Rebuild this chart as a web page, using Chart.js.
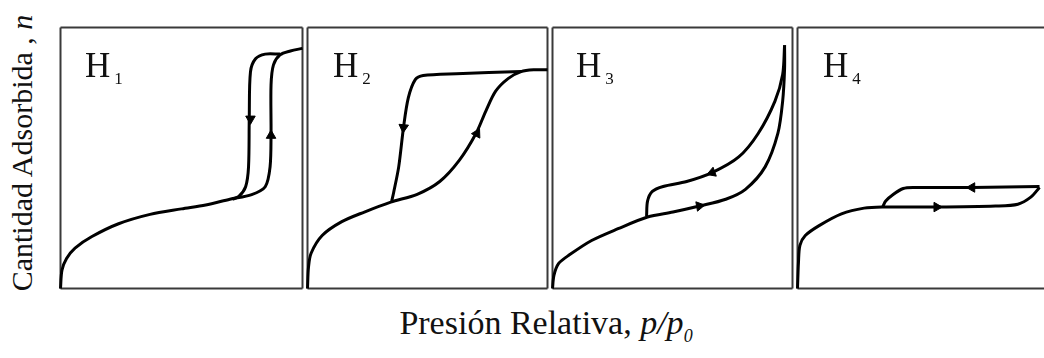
<!DOCTYPE html>
<html>
<head>
<meta charset="utf-8">
<script src="https://cdn.jsdelivr.net/npm/chart.js@4"></script>
<style>
    body { margin: 0; background: #fff; overflow: hidden; width: 1044px; height: 358px; position: relative; }
    canvas { position: absolute; }
    .txt { position: absolute; font-family: "Liberation Serif", "Times New Roman", "DejaVu Serif", serif; color: #111; white-space: nowrap; line-height: 1; }
    .lbl { font-size: 35px; top: 48px; }
    .lbl span { font-size: 17px; margin-left: 4px; position: relative; top: 7px; }
    #xtitle { font-size: 34px; left: 546px; top: 306px; transform: translateX(-50%); }
    #ytitle { font-size: 30px; left: 22px; top: 153px; transform: translate(-50%, -50%) rotate(-90deg); }
    sub { font-size: 18px; }
</style>
</head>
<body>
<div class="txt" id="ytitle">Cantidad Adsorbida , <i>n</i></div>
<div class="txt" id="xtitle">Presión Relativa, <i>p/p<sub>0</sub></i></div>

<script>
// Data (x = p/p0, y = cantidad adsorbida, both relative 0..1)
const panelLabels = ['H', 'H', 'H', 'H'];
const panelSubs = ['1', '2', '3', '4'];

const h1Adsorcion = [[0, 0], [0.006, 0.07], [0.025, 0.115], [0.06, 0.155], [0.13, 0.199], [0.24, 0.248],
    [0.37, 0.284], [0.5, 0.305], [0.6, 0.32], [0.70, 0.342], [0.79, 0.36], [0.846, 0.39], [0.866, 0.466],
    [0.87, 0.594], [0.87, 0.78], [0.88, 0.857], [0.907, 0.895], [0.95, 0.91], [1.0, 0.92]];
const h1Desorcion = [[0.907, 0.898], [0.846, 0.898], [0.806, 0.88], [0.785, 0.83], [0.78, 0.654],
    [0.777, 0.466], [0.765, 0.39], [0.737, 0.353], [0.71, 0.342]];
const h1Flechas = [[0.785, 0.65, 180], [0.87, 0.586, 0]];

const h2Adsorcion = [[0, 0], [0.004, 0.08], [0.015, 0.135], [0.061, 0.203], [0.143, 0.256], [0.237, 0.293],
    [0.347, 0.331], [0.457, 0.361], [0.551, 0.41], [0.633, 0.492], [0.702, 0.594], [0.743, 0.68],
    [0.784, 0.756], [0.837, 0.805], [0.89, 0.831], [0.947, 0.838], [1.0, 0.838]];
const h2Desorcion = [[0.89, 0.831], [0.62, 0.823], [0.482, 0.816], [0.449, 0.80], [0.42, 0.73],
    [0.40, 0.617], [0.38, 0.466], [0.359, 0.368], [0.351, 0.335]];
const h2Flechas = [[0.40, 0.617, 185], [0.706, 0.594, 28]];

const h3Adsorcion = [[0, 0], [0.006, 0.05], [0.025, 0.095], [0.069, 0.128], [0.163, 0.184], [0.273, 0.229],
    [0.396, 0.274], [0.502, 0.293], [0.612, 0.316], [0.722, 0.342], [0.804, 0.38], [0.886, 0.466],
    [0.939, 0.594], [0.959, 0.718], [0.967, 0.842], [0.967, 0.932]];
const h3Desorcion = [[0.967, 0.932], [0.959, 0.82], [0.927, 0.718], [0.857, 0.594], [0.776, 0.504],
    [0.665, 0.444], [0.559, 0.41], [0.461, 0.391], [0.416, 0.372], [0.396, 0.335], [0.392, 0.277]];
const h3Flechas = [[0.612, 0.316, 80], [0.665, 0.444, 250]];

const h4Adsorcion = [[0, 0], [0.004, 0.1], [0.01, 0.165], [0.032, 0.203], [0.089, 0.241], [0.181, 0.286],
    [0.274, 0.308], [0.355, 0.312], [0.573, 0.312], [0.815, 0.316], [0.907, 0.323], [0.96, 0.35],
    [0.996, 0.387]];
const h4Desorcion = [[0.996, 0.391], [0.718, 0.387], [0.476, 0.387], [0.435, 0.383], [0.395, 0.361],
    [0.363, 0.335], [0.351, 0.314]];
const h4Flechas = [[0.573, 0.312, 90], [0.718, 0.387, 270]];

const panels = [
    { ads: h1Adsorcion, des: h1Desorcion, arrows: h1Flechas, left: 58, width: 247, frameRight: true },
    { ads: h2Adsorcion, des: h2Desorcion, arrows: h2Flechas, left: 305, width: 245, frameRight: true },
    { ads: h3Adsorcion, des: h3Desorcion, arrows: h3Flechas, left: 550, width: 245, frameRight: true },
    { ads: h4Adsorcion, des: h4Desorcion, arrows: h4Flechas, left: 795, width: 248, frameRight: false },
];
const labelLeft = [85, 333, 576, 823];

const PAD = 4;
const TOP = 25;
const HEIGHT = 266;

// draws the panel box around the chart area
const framePlugin = {
    id: 'frame',
    beforeDatasetsDraw(chart, args, opts) {
        const a = chart.chartArea;
        const ctx = chart.ctx;
        ctx.save();
        ctx.strokeStyle = '#3a3a3a';
        ctx.lineWidth = 2;
        ctx.beginPath();
        ctx.moveTo(a.left, a.top);
        ctx.lineTo(a.left, a.bottom);
        ctx.moveTo(a.left, a.top);
        ctx.lineTo(a.right + (opts.right ? 0 : PAD), a.top);
        ctx.moveTo(a.left, a.bottom);
        ctx.lineTo(a.right + (opts.right ? 0 : PAD), a.bottom);
        if (opts.right) {
            ctx.moveTo(a.right, a.top);
            ctx.lineTo(a.right, a.bottom);
        }
        ctx.stroke();
        ctx.restore();
    }
};

const toPoints = (arr) => arr.map(p => ({ x: p[0], y: p[1] }));

panels.forEach((panel, i) => {
    const canvas = document.createElement('canvas');
    canvas.width = panel.width + 2 * PAD;
    canvas.height = HEIGHT + 2 * PAD;
    canvas.style.left = (panel.left - PAD) + 'px';
    canvas.style.top = (TOP - PAD) + 'px';
    document.body.appendChild(canvas);

    const curve = (data) => ({
        data: toPoints(data),
        showLine: true,
        borderColor: '#000',
        borderWidth: 3,
        pointRadius: 0,
        tension: 0.3,
        clip: PAD,
    });

    new Chart(canvas, {
        type: 'scatter',
        data: {
            datasets: [
                curve(panel.ads),
                curve(panel.des),
                {
                    data: toPoints(panel.arrows),
                    pointStyle: 'triangle',
                    pointRadius: 5.5,
                    pointRotation: panel.arrows.map(p => p[2]),
                    backgroundColor: '#000',
                    borderColor: '#000',
                    borderWidth: 1,
                    clip: PAD,
                },
            ],
        },
        options: {
            responsive: false,
            animation: false,
            devicePixelRatio: 1,
            layout: { padding: PAD },
            plugins: {
                legend: { display: false },
                tooltip: { enabled: false },
                frame: { right: panel.frameRight },
            },
            scales: {
                x: { type: 'linear', min: 0, max: 1, display: false },
                y: { type: 'linear', min: 0, max: 1, display: false },
            },
        },
        plugins: [framePlugin],
    });

    const lbl = document.createElement('div');
    lbl.className = 'txt lbl';
    lbl.style.left = labelLeft[i] + 'px';
    lbl.innerHTML = panelLabels[i] + '<span>' + panelSubs[i] + '</span>';
    document.body.appendChild(lbl);
});
</script>
</body>
</html>
